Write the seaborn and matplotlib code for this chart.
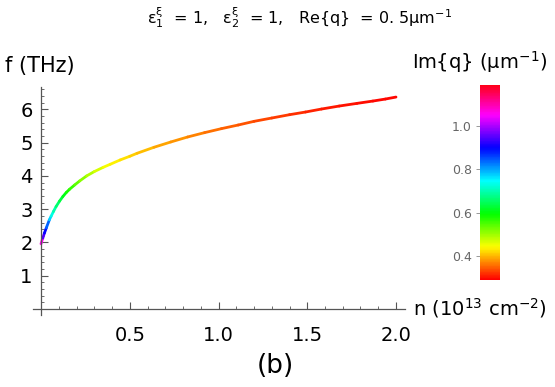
import numpy as np
import seaborn as sns
import matplotlib.pyplot as plt
from matplotlib.collections import LineCollection
from matplotlib.colors import Normalize
from matplotlib.cm import ScalarMappable
from matplotlib.ticker import MultipleLocator

# values: carrier density n, frequency f and Im{q}
n_vals = [0, 0.01, 0.019, 0.03, 0.047, 0.057, 0.07, 0.085, 0.104, 0.123,
          0.142, 0.161, 0.19, 0.218, 0.257, 0.3, 0.351, 0.39, 0.446, 0.5,
          0.541, 0.636, 0.731, 0.826, 0.921, 1.016, 1.111, 1.2, 1.3, 1.4,
          1.49, 1.58, 1.68, 1.78, 1.87, 1.94, 2.0]
f_vals = [1.96, 2.13, 2.28, 2.44, 2.68, 2.79, 2.93, 3.08, 3.24, 3.38,
          3.50, 3.60, 3.73, 3.85, 4.00, 4.13, 4.26, 4.35, 4.48, 4.59,
          4.68, 4.86, 5.02, 5.17, 5.30, 5.42, 5.53, 5.64, 5.74, 5.84,
          5.92, 6.01, 6.10, 6.18, 6.25, 6.31, 6.37]
imq_vals = [1.15, 0.97, 0.92, 0.88, 0.80, 0.75, 0.71, 0.68, 0.645, 0.62,
            0.595, 0.575, 0.55, 0.525, 0.50, 0.48, 0.455, 0.44, 0.43, 0.42,
            0.41, 0.397, 0.385, 0.373, 0.363, 0.354, 0.345, 0.337, 0.329, 0.322,
            0.315, 0.31, 0.305, 0.301, 0.298, 0.296, 0.295]

x_ticks = [0.5, 1.0, 1.5, 2.0]
y_ticks = [1, 2, 3, 4, 5, 6]
cbar_ticks = [0.4, 0.6, 0.8, 1.0]
imq_min, imq_max = 0.29, 1.19

sns.set_theme(style="white")
plt.rcParams['font.family'] = ['DejaVu Sans']
plt.rcParams['mathtext.default'] = 'regular'
plt.rcParams['text.color'] = 'black'

fig = plt.figure(figsize=(5.55, 3.87), dpi=100)
ax = fig.add_axes([0.0595, 0.186, 0.670, 0.589])

cmap = sns.color_palette("hsv", as_cmap=True)
norm = Normalize(imq_min, imq_max)

# curve coloured by Im{q}
pts = np.column_stack([n_vals, f_vals]).reshape(-1, 1, 2)
segs = np.concatenate([pts[:-1], pts[1:]], axis=1)
seg_c = (np.array(imq_vals[:-1]) + np.array(imq_vals[1:])) / 2
lc = LineCollection(segs, cmap=cmap, norm=norm, linewidth=2.0, capstyle='round')
lc.set_array(seg_c)
ax.add_collection(lc)

ax.set_xlim(-0.045, 2.05)
ax.set_ylim(-0.18, 6.67)

# Mathematica style axes through the origin
for s in ['top', 'right']:
    ax.spines[s].set_visible(False)
ax.spines['left'].set_position(('data', 0))
ax.spines['bottom'].set_position(('data', 0))
for s in ['left', 'bottom']:
    ax.spines[s].set_color('#555555')
    ax.spines[s].set_linewidth(0.9)

ax.set_xticks(x_ticks)
ax.set_xticklabels(['0.5', '1.0', '1.5', '2.0'])
ax.set_yticks(y_ticks)
ax.xaxis.set_minor_locator(MultipleLocator(0.1))
ax.yaxis.set_minor_locator(MultipleLocator(0.2))
ax.tick_params(which='major', direction='in', length=5, width=0.8,
               color='#555555', labelsize=14, labelcolor='black', pad=6,
               bottom=True, left=True)
ax.tick_params(which='minor', direction='in', length=2.5, width=0.6,
               color='#555555', bottom=True, left=True)
ax.tick_params(axis='x', pad=12)

fig.text(0.009, 0.83, 'f (THz)', fontsize=15, va='center', ha='left')
fig.text(0.744, 0.205, r'n (10$^{13}$ cm$^{-2}$)', fontsize=14,
         va='center', ha='left')
fig.text(0.497, 0.055, '(b)', fontsize=19, ha='center', va='center')
fig.text(0.54, 0.955,
         r'ε$_1^ξ$  = 1,   ε$_2^ξ$  = 1,   Re{q}  = 0. 5μm$^{-1}$',
         fontsize=11.5, ha='center', va='center')

cax = fig.add_axes([0.865, 0.2765, 0.036, 0.504])
cb = fig.colorbar(ScalarMappable(norm=norm, cmap=cmap), cax=cax)
cb.outline.set_visible(False)
cb.set_ticks(cbar_ticks)
cb.ax.yaxis.set_ticks_position('left')
cb.ax.tick_params(labelsize=9, labelcolor='#666666', color='#888888',
                  length=3, width=0.6, pad=3)
fig.text(0.742, 0.84, r'Im{q} (μm$^{-1}$)', fontsize=14, ha='left', va='center')

fig.savefig('out.png', dpi=100)
